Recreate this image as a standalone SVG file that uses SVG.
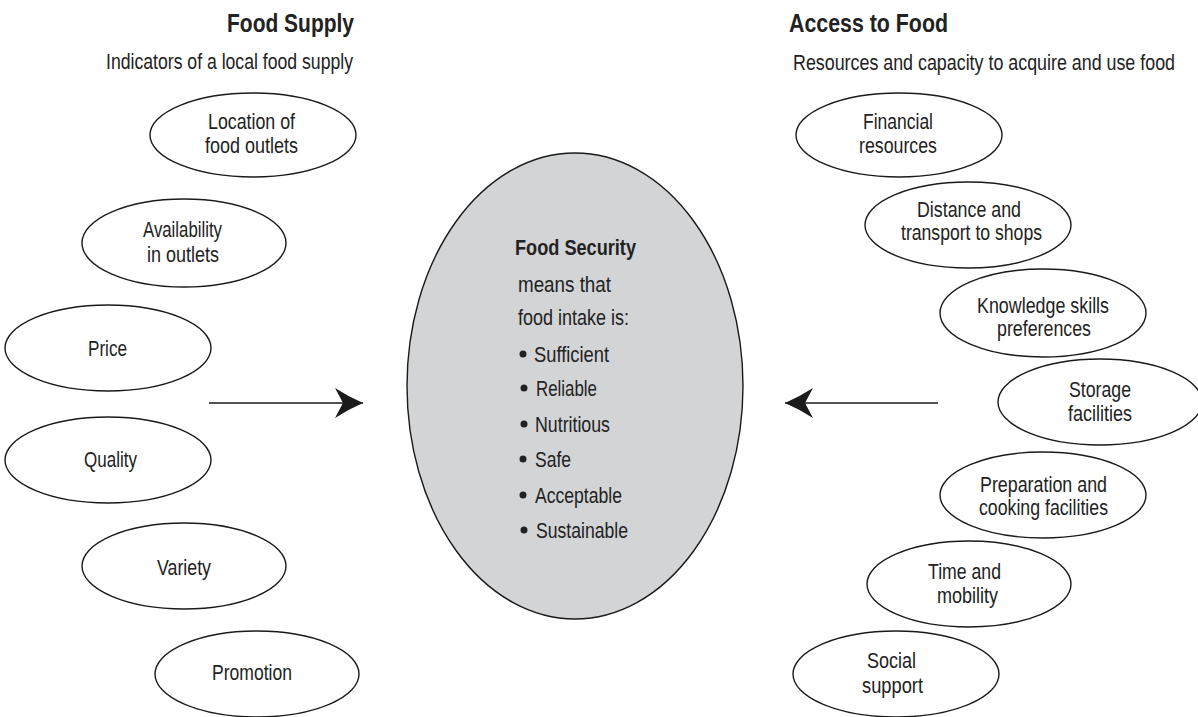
<svg xmlns="http://www.w3.org/2000/svg" width="1198" height="717" viewBox="0 0 1198 717">
<style>
  .bg { fill: #ffffff; }
  .node ellipse { fill: #ffffff; stroke: #1a1a1a; stroke-width: 1.4; }
  #center ellipse { fill: #d3d4d6; stroke: #1a1a1a; stroke-width: 1.4; }
  text { font-family: "Liberation Sans", Arial, sans-serif; fill: #222222; }
  .lbl { font-size: 22px; }
  .title { font-size: 26px; font-weight: bold; }
  .sub { font-size: 22px; }
  .bold { font-weight: bold; }
  .bullet { fill: #222222; }
  .conn line { stroke: #1a1a1a; stroke-width: 1.5; }
</style>
<defs>
  <marker id="head" markerUnits="userSpaceOnUse" markerWidth="30" markerHeight="32" viewBox="-29 -16 30 32" refX="0" refY="0" orient="auto">
    <path d="M0,0 Q-14,-6 -28,-15 L-20,0 L-28,15 Q-14,6 0,0 Z" fill="#1a1a1a"/>
  </marker>
</defs>
<rect class="bg" x="0" y="0" width="1198" height="717"/>

<g id="headings">
  <text class="title" x="227" y="32" textLength="127" lengthAdjust="spacingAndGlyphs">Food Supply</text>
  <text class="sub" x="106" y="69" textLength="247" lengthAdjust="spacingAndGlyphs">Indicators of a local food supply</text>
  <text class="title" x="789" y="32" textLength="159" lengthAdjust="spacingAndGlyphs">Access to Food</text>
  <text class="sub" x="1175" y="70" text-anchor="end" textLength="382" lengthAdjust="spacingAndGlyphs">Resources and capacity to acquire and use food</text>
</g>

<g id="connectors" class="conn">
  <line x1="209" y1="403" x2="363" y2="403" marker-end="url(#head)"/>
  <line x1="938" y1="403" x2="785" y2="403" marker-end="url(#head)"/>
</g>

<g id="location" class="node">
  <ellipse cx="253" cy="135" rx="103" ry="42"/>
  <text class="lbl" x="208" y="129" textLength="87" lengthAdjust="spacingAndGlyphs">Location of</text>
  <text class="lbl" x="205" y="153" textLength="93" lengthAdjust="spacingAndGlyphs">food outlets</text>
</g>
<g id="availability" class="node">
  <ellipse cx="184" cy="243" rx="102" ry="44"/>
  <text class="lbl" x="143" y="237" textLength="79" lengthAdjust="spacingAndGlyphs">Availability</text>
  <text class="lbl" x="147" y="262" textLength="72" lengthAdjust="spacingAndGlyphs">in outlets</text>
</g>
<g id="price" class="node">
  <ellipse cx="108" cy="348" rx="103" ry="43"/>
  <text class="lbl" x="88" y="356" textLength="39" lengthAdjust="spacingAndGlyphs">Price</text>
</g>
<g id="quality" class="node">
  <ellipse cx="108" cy="460" rx="103" ry="43"/>
  <text class="lbl" x="84" y="467" textLength="53" lengthAdjust="spacingAndGlyphs">Quality</text>
</g>
<g id="variety" class="node">
  <ellipse cx="184" cy="566" rx="102" ry="43"/>
  <text class="lbl" x="157" y="575" textLength="54" lengthAdjust="spacingAndGlyphs">Variety</text>
</g>
<g id="promotion" class="node">
  <ellipse cx="257" cy="674" rx="102" ry="43"/>
  <text class="lbl" x="212" y="680" textLength="80" lengthAdjust="spacingAndGlyphs">Promotion</text>
</g>

<g id="financial" class="node">
  <ellipse cx="899" cy="135" rx="103" ry="42"/>
  <text class="lbl" x="863" y="129" textLength="70" lengthAdjust="spacingAndGlyphs">Financial</text>
  <text class="lbl" x="859" y="153" textLength="78" lengthAdjust="spacingAndGlyphs">resources</text>
</g>
<g id="distance" class="node">
  <ellipse cx="968" cy="225" rx="103" ry="43"/>
  <text class="lbl" x="917" y="217" textLength="104" lengthAdjust="spacingAndGlyphs">Distance and</text>
  <text class="lbl" x="901" y="240" textLength="141" lengthAdjust="spacingAndGlyphs">transport to shops</text>
</g>
<g id="knowledge" class="node">
  <ellipse cx="1043" cy="313" rx="103" ry="44"/>
  <text class="lbl" x="977" y="313" textLength="132" lengthAdjust="spacingAndGlyphs">Knowledge skills</text>
  <text class="lbl" x="997" y="336" textLength="94" lengthAdjust="spacingAndGlyphs">preferences</text>
</g>
<g id="storage" class="node">
  <ellipse cx="1100" cy="402" rx="102" ry="43"/>
  <text class="lbl" x="1069" y="397" textLength="62" lengthAdjust="spacingAndGlyphs">Storage</text>
  <text class="lbl" x="1068" y="421" textLength="64" lengthAdjust="spacingAndGlyphs">facilities</text>
</g>
<g id="preparation" class="node">
  <ellipse cx="1043" cy="495" rx="103" ry="43"/>
  <text class="lbl" x="980" y="492" textLength="127" lengthAdjust="spacingAndGlyphs">Preparation and</text>
  <text class="lbl" x="979" y="515" textLength="129" lengthAdjust="spacingAndGlyphs">cooking facilities</text>
</g>
<g id="time" class="node">
  <ellipse cx="969" cy="584" rx="102" ry="43"/>
  <text class="lbl" x="928" y="579" textLength="73" lengthAdjust="spacingAndGlyphs">Time and</text>
  <text class="lbl" x="937" y="603" textLength="61" lengthAdjust="spacingAndGlyphs">mobility</text>
</g>
<g id="social" class="node">
  <ellipse cx="896" cy="674" rx="103" ry="43"/>
  <text class="lbl" x="867" y="668" textLength="49" lengthAdjust="spacingAndGlyphs">Social</text>
  <text class="lbl" x="862" y="693" textLength="61" lengthAdjust="spacingAndGlyphs">support</text>
</g>

<g id="center">
  <ellipse cx="575" cy="386" rx="168" ry="233"/>
  <text class="lbl bold" x="515" y="255" textLength="121" lengthAdjust="spacingAndGlyphs">Food Security</text>
  <text class="lbl" x="518" y="292" textLength="93" lengthAdjust="spacingAndGlyphs">means that</text>
  <text class="lbl" x="518" y="325" textLength="111" lengthAdjust="spacingAndGlyphs">food intake is:</text>
  <circle class="bullet" cx="523" cy="354" r="3.5"/>
  <text class="lbl" x="534" y="362" textLength="75" lengthAdjust="spacingAndGlyphs">Sufficient</text>
  <circle class="bullet" cx="524" cy="388" r="3.5"/>
  <text class="lbl" x="536" y="396" textLength="61" lengthAdjust="spacingAndGlyphs">Reliable</text>
  <circle class="bullet" cx="524" cy="424" r="3.5"/>
  <text class="lbl" x="535" y="432" textLength="75" lengthAdjust="spacingAndGlyphs">Nutritious</text>
  <circle class="bullet" cx="523" cy="459" r="3.5"/>
  <text class="lbl" x="535" y="467" textLength="36" lengthAdjust="spacingAndGlyphs">Safe</text>
  <circle class="bullet" cx="523" cy="495" r="3.5"/>
  <text class="lbl" x="535" y="503" textLength="87" lengthAdjust="spacingAndGlyphs">Acceptable</text>
  <circle class="bullet" cx="524" cy="530" r="3.5"/>
  <text class="lbl" x="536" y="538" textLength="92" lengthAdjust="spacingAndGlyphs">Sustainable</text>
</g>
</svg>
